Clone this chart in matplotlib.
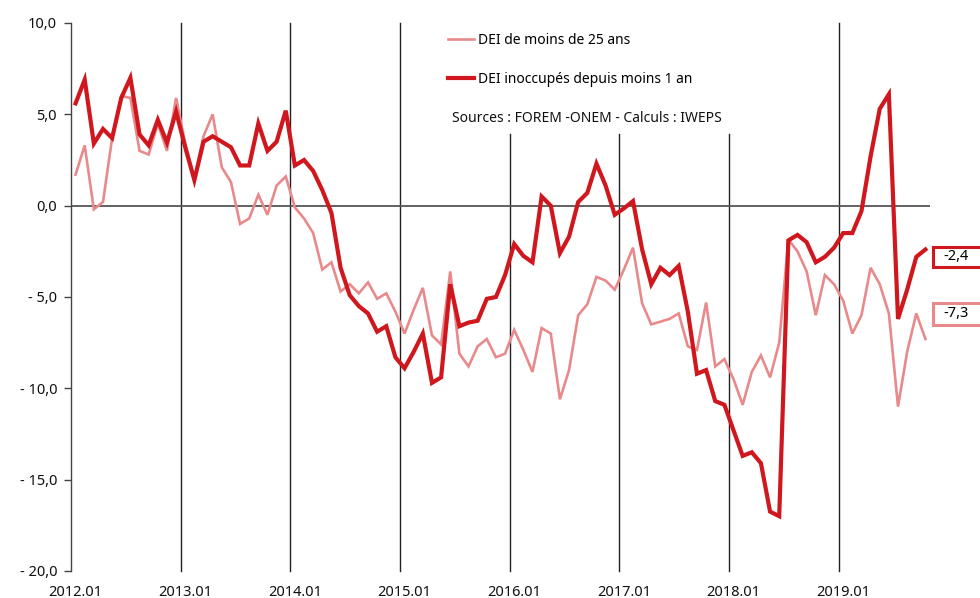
import matplotlib
matplotlib.use("Agg")
import matplotlib.pyplot as plt
from matplotlib.patches import Rectangle

plt.rcParams['font.family'] = ['Noto Sans', 'DejaVu Sans']

years = ["2012", "2013", "2014", "2015", "2016", "2017", "2018", "2019"]
tick_labels = [y + ".01" for y in years]

dei_moins_1an = [
    5.6, 6.9, 3.4, 4.2, 3.7, 5.9, 7.0, 3.9, 3.3, 4.7, 3.45, 5.15,
    3.2, 1.4, 3.5, 3.8, 3.5, 3.2, 2.2, 2.2, 4.5, 3.0, 3.5, 5.2,
    2.2, 2.5, 1.9, 0.85, -0.4, -3.4, -4.9, -5.5, -5.9, -6.9, -6.6, -8.3,
    -8.9, -8.0, -7.0, -9.7, -9.4, -4.3, -6.6, -6.4, -6.3, -5.1, -5.0, -3.8,
    -2.1, -2.75, -3.1, 0.5, 0.0, -2.6, -1.7, 0.2, 0.7, 2.3, 1.1, -0.5,
    -0.15, 0.25, -2.4, -4.3, -3.4, -3.8, -3.3, -5.8, -9.2, -9.0, -10.7, -10.9,
    -12.3, -13.7, -13.5, -14.1, -16.75, -17.0, -1.9, -1.6, -2.0, -3.1, -2.8, -2.3,
    -1.5, -1.5, -0.3, 2.7, 5.3, 6.1, -6.2, -4.6, -2.8, -2.4,
]

dei_moins_25 = [
    1.7, 3.3, -0.2, 0.2, 3.7, 6.0, 5.9, 3.0, 2.8, 4.5, 3.0, 5.9,
    3.4, 1.5, 3.8, 5.0, 2.1, 1.3, -1.0, -0.7, 0.6, -0.5, 1.1, 1.6,
    -0.1, -0.7, -1.5, -3.5, -3.1, -4.7, -4.3, -4.8, -4.2, -5.1, -4.8, -5.8,
    -7.0, -5.7, -4.5, -7.1, -7.6, -3.6, -8.1, -8.8, -7.7, -7.3, -8.3, -8.1,
    -6.8, -7.9, -9.1, -6.7, -7.0, -10.6, -9.0, -6.0, -5.4, -3.9, -4.1, -4.6,
    -3.5, -2.3, -5.35, -6.5, -6.35, -6.2, -5.9, -7.7, -7.9, -5.3, -8.8, -8.4,
    -9.5, -10.9, -9.1, -8.2, -9.4, -7.5, -1.85, -2.5, -3.6, -6.0, -3.8, -4.3,
    -5.2, -7.0, -6.0, -3.4, -4.3, -5.9, -11.0, -8.0, -5.9, -7.3,
]

y_ticks = [10, 5, 0, -5, -10, -15, -20]
y_tick_labels = ["10,0", "5,0", "0,0", "- 5,0", "- 10,0", "- 15,0", "- 20,0"]

DARK = "#D0171E"
LIGHT = "#E88A8C"

n = len(dei_moins_1an)
x = list(range(n))

fig = plt.figure(figsize=(9.8, 5.98), dpi=100)
ax = fig.add_axes([71 / 980, 1 - 571 / 598, (930 - 71) / 980, (571 - 23) / 598])

ax.set_xlim(-0.5, n - 0.5)
ax.set_ylim(-20, 10)

# year separators
for k in range(1, len(years)):
    xb = 12 * k - 0.5
    top = 3.9 if years[k] in ("2016", "2017", "2018") else 10
    ax.plot([xb, xb], [-20, top], color="#222222", lw=1.0, zorder=1, clip_on=False)
ax.axhline(0, color="#555555", lw=1.3, zorder=1)

l1, = ax.plot(x, dei_moins_25, color=LIGHT, lw=1.9, zorder=3,
              solid_joinstyle="miter", label="DEI de moins de 25 ans")
l2, = ax.plot(x, dei_moins_1an, color=DARK, lw=3.0, zorder=4,
              solid_joinstyle="miter", label="DEI inoccupés depuis moins 1 an")

ax.set_yticks(y_ticks)
ax.set_yticklabels(y_tick_labels)
ax.set_xticks([12 * k for k in range(len(years))])
ax.set_xticklabels(tick_labels)

for s in ("top", "right", "bottom"):
    ax.spines[s].set_visible(False)
ax.spines["left"].set_color("#444444")
ax.spines["left"].set_linewidth(1.0)
ax.tick_params(axis="y", length=5, width=1, color="#444444", labelsize=10.5, pad=5,
               labelcolor="#111111")
ax.tick_params(axis="x", length=0, labelsize=10.5, pad=10, labelcolor="#111111")
for t in ax.get_xticklabels() + ax.get_yticklabels():
    t.set_fontweight("medium")

leg = ax.legend(handles=[l1, l2], loc="upper left",
                bbox_to_anchor=(442 / 980, 1 - 27 / 598), bbox_transform=fig.transFigure,
                frameon=False, fontsize=10, handlelength=1.9, handletextpad=0.3,
                labelspacing=1.75, borderaxespad=0)
fig.text(452 / 980, 1 - 118 / 598, "Sources : FOREM -ONEM - Calculs : IWEPS",
         fontsize=10, va="center", ha="left", color="#111111")

# end-value labels: boxes run off the right edge as in the original
ax.add_patch(Rectangle((93.85, -3.36), 8, 1.1, fc="white", ec=DARK, lw=2.2,
                       clip_on=False, zorder=5))
ax.add_patch(Rectangle((93.85, -6.53), 8, 1.2, fc="white", ec=LIGHT, lw=2.2,
                       clip_on=False, zorder=5))
ax.text(94.95, -2.81, "-2,4", fontsize=10.5, fontweight="medium", va="center", ha="left",
        clip_on=False, zorder=6)
ax.text(94.95, -5.93, "-7,3", fontsize=10.5, fontweight="medium", va="center", ha="left",
        clip_on=False, zorder=6)

fig.savefig("out.png", dpi=100)
